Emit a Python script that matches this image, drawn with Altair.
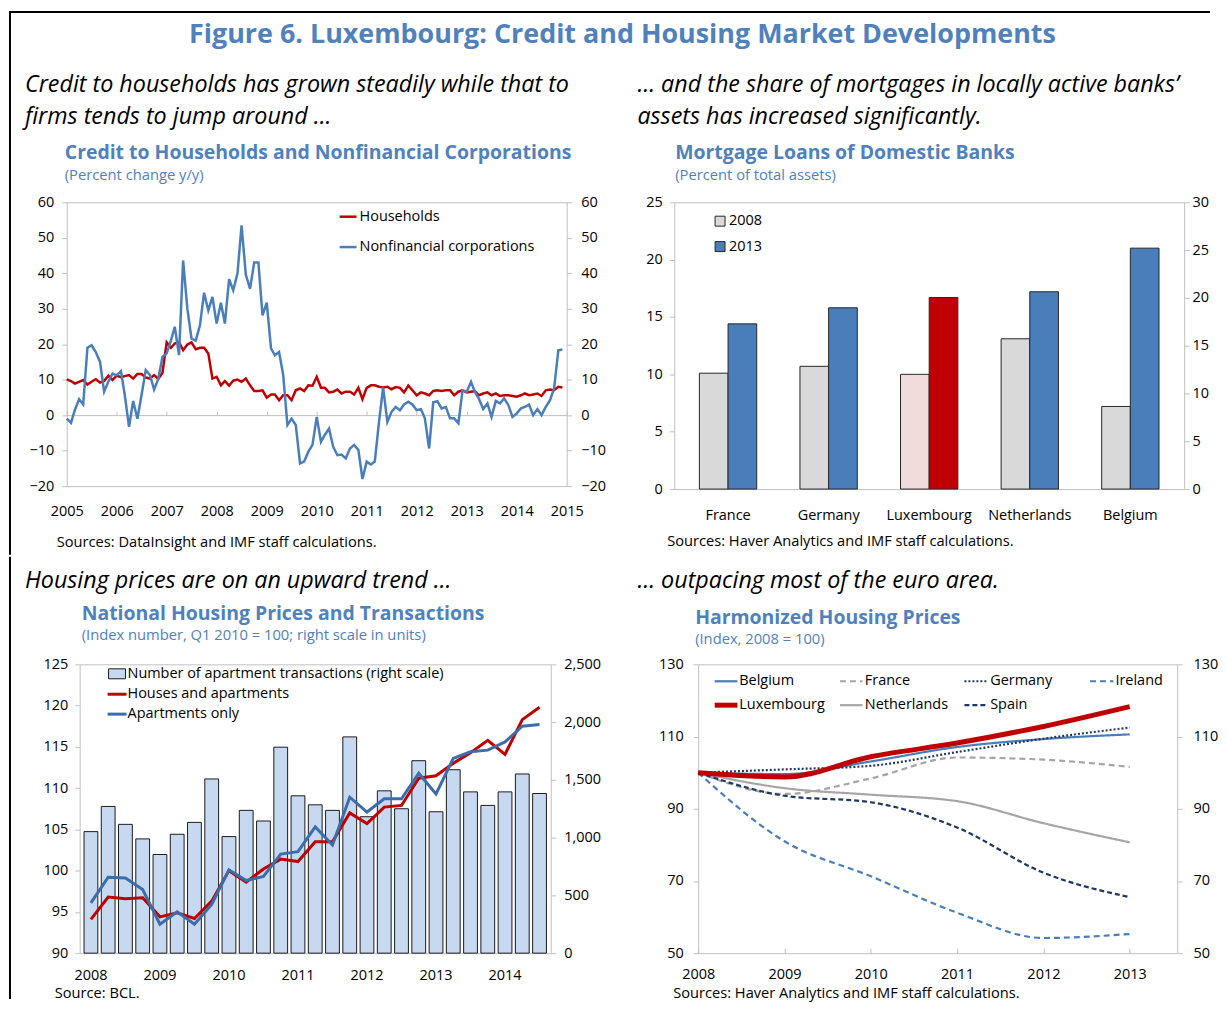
import altair as alt
import pandas as pd

FONT = "Open Sans"
TITLE_BLUE = "#4F81BD"
RED = "#C00000"
BLUE = "#4A7EBB"
DARK_BLUE = "#3C6DAA"
NAVY = "#1F3864"
LGRAY = "#A6A6A6"
FRAME = "#BFBFBF"
BAR_EDGE = "#262626"

# ---------------- Panel 1: credit growth (monthly, Jan 2005 - Dec 2014) ----------------
start_month = "2005-01-01"
households = [
    10.1, 9.6, 8.9, 9.4, 9.9, 8.6, 9.4, 10.1, 9.2, 9.6,
    11.1, 9.9, 11.1, 10.7, 11.0, 11.3, 10.3, 11.6, 11.6, 10.6,
    10.3, 11.3, 10.3, 11.9, 20.5, 19.0, 20.2, 20.6, 18.3, 19.9,
    20.5, 18.6, 19.0, 19.0, 17.4, 10.3, 10.8, 8.4, 9.6, 8.3,
    9.7, 10.0, 9.4, 10.3, 8.4, 6.8, 6.8, 7.0, 4.9, 5.8,
    5.8, 4.2, 5.6, 5.6, 4.2, 7.0, 7.5, 6.8, 8.4, 8.3,
    10.8, 7.7, 7.7, 6.4, 6.6, 7.2, 6.1, 6.6, 6.6, 5.8,
    7.7, 4.5, 7.7, 8.4, 8.4, 8.0, 7.8, 8.0, 7.3, 7.9,
    7.7, 6.4, 8.3, 7.0, 5.6, 6.4, 6.1, 5.6, 6.8, 7.0,
    6.8, 7.0, 7.0, 5.6, 6.6, 7.0, 6.4, 6.6, 6.8, 5.6,
    6.1, 6.4, 5.6, 6.1, 5.4, 5.6, 5.6, 5.4, 5.2, 5.6,
    6.1, 5.6, 5.8, 6.1, 5.4, 7.0, 7.2, 7.0, 8.0, 7.8,
]
nonfinancial = [
    -1.0, -2.2, 1.4, 4.5, 3.0, 19.0, 19.7, 17.8, 15.0, 6.6,
    9.4, 11.7, 11.2, 12.4, 5.6, -3.3, 4.0, -1.0, 5.6, 12.7,
    11.3, 7.2, 10.3, 16.4, 17.4, 21.0, 24.9, 16.9, 43.6, 30.0,
    21.6, 21.0, 25.3, 34.5, 29.5, 33.3, 25.8, 31.7, 25.8, 38.3,
    35.2, 39.9, 53.5, 39.6, 35.6, 43.0, 43.0, 28.1, 31.7, 18.8,
    16.9, 17.8, 11.3, -2.8, -1.0, -2.8, -13.6, -13.1, -10.3, -8.4,
    -0.5, -7.5, -5.6, -3.8, -8.9, -11.3, -11.1, -12.2, -9.4, -8.4,
    -9.8, -18.0, -13.1, -13.9, -13.1, -1.9, 7.8, -1.9, 0.9, 2.3,
    1.4, 3.0, 3.8, 3.0, 1.4, 1.7, -0.9, -9.4, 3.6, 3.9,
    1.9, 2.3, -0.9, -0.9, -2.3, 7.0, 6.6, 9.4, 6.6, 4.5,
    1.7, 3.3, -0.5, 4.0, 3.3, 4.7, 2.8, -0.5, 0.5, 1.9,
    2.3, 3.0, 0.0, 1.7, 0.0, 2.3, 4.2, 7.5, 18.3, 18.5,
]
p1_ticks = [-20, -10, 0, 10, 20, 30, 40, 50, 60]
p1_years = list(range(2005, 2016))

# ---------------- Panel 2: mortgage loans ----------------
countries = ["France", "Germany", "Luxembourg", "Netherlands", "Belgium"]
share_2008 = [10.1, 10.7, 10.0, 13.1, 7.2]
share_2013 = [14.4, 15.8, 16.7, 17.2, 21.0]
p2_left_ticks = [0, 5, 10, 15, 20, 25]
p2_right_ticks = [0, 5, 10, 15, 20, 25, 30]

# ---------------- Panel 3: national housing prices (quarterly 2008Q1-2014Q3) ----------------
quarters = [f"{y}Q{q}" for y in range(2008, 2015) for q in range(1, 5)][:27]
transactions = [1052, 1270, 1115, 989, 854, 1029, 1132, 1508, 1009, 1236, 1144, 1783, 1362, 1284,
                1236, 1872, 1181, 1405, 1250, 1666, 1224, 1588, 1396, 1279, 1396, 1551, 1382]
houses_apartments = [94.1, 96.8, 96.6, 96.7, 94.4, 94.9, 94.2, 96.3, 100.0, 98.6, 100.2, 101.4, 101.1, 103.5,
                     103.5, 107.0, 105.7, 107.7, 107.9, 111.2, 111.5, 113.0, 114.3, 115.8, 114.1, 118.3, 119.8]
apartments_only = [96.1, 99.2, 99.1, 97.7, 93.5, 95.0, 93.5, 95.9, 100.1, 98.8, 99.3, 102.0, 102.3, 105.3,
                   103.1, 108.9, 107.1, 108.7, 108.7, 111.8, 109.3, 113.6, 114.4, 114.6, 115.6, 117.5, 117.7]
p3_left_ticks = [90, 95, 100, 105, 110, 115, 120, 125]
p3_right_ticks = [0, 500, 1000, 1500, 2000, 2500]

# ---------------- Panel 4: harmonized housing prices ----------------
hp_years = [2008, 2009, 2010, 2011, 2012, 2013]
hp_belgium = [100, 99.6, 103.1, 107.1, 109.3, 110.6]
hp_france = [100, 94.1, 98.4, 104.2, 103.6, 101.6]
hp_germany = [100, 100.9, 101.9, 105.7, 109.4, 112.5]
hp_ireland = [100, 81.0, 71.3, 61.2, 54.2, 55.3]
hp_luxembourg = [100, 98.8, 104.4, 108.2, 112.8, 118.3]
hp_netherlands = [100, 95.7, 93.9, 92.1, 86.0, 80.7]
hp_spain = [100, 93.6, 91.8, 84.8, 72.3, 65.5]
hp_names = ["Belgium", "France", "Germany", "Ireland", "Luxembourg", "Netherlands", "Spain"]
hp_colors = [BLUE, LGRAY, NAVY, BLUE, RED, LGRAY, NAVY]
hp_dashes = [[1, 0], [6, 4], [2, 2], [6, 4], [1, 0], [1, 0], [5, 3]]
p4_ticks = [50, 70, 90, 110, 130]

ONE = pd.DataFrame({"k": [0]})

HEAD = 23.4     # italic panel headings
MAIN = 27       # figure title
TSIZE = 19.5    # chart titles
SUB = 14.8      # chart subtitles
LEG = 14.5      # legend labels
SRC = 14.7      # source notes
AX = 14.5       # axis labels


def txt(s, x, y, size=LEG, color="#000000", weight="normal", style="normal", align="left"):
    return alt.Chart(ONE).mark_text(
        text=s, font=FONT, fontSize=size, color=color, fontWeight=weight,
        fontStyle=style, align=align, baseline="middle"
    ).encode(x=alt.value(x), y=alt.value(y))


def hline(x1, x2, y, color, width, dash=None):
    kw = dict(color=color, strokeWidth=width)
    if dash is not None:
        kw["strokeDash"] = dash
    return alt.Chart(ONE).mark_rule(**kw).encode(x=alt.value(x1), x2=alt.value(x2), y=alt.value(y))


def box(x1, x2, y1, y2, color="#000000"):
    # filled, stroke-less bar used for the figure's frame lines
    return alt.Chart(ONE).mark_rect(color=color).encode(
        x=alt.value(x1), x2=alt.value(x2), y=alt.value(y1), y2=alt.value(y2))


def yaxis(values, orient, pad, fmt=None):
    kw = dict(orient=orient, values=values, grid=False, domain=False, ticks=True, tickSize=5,
              tickColor=FRAME, labelPadding=pad, title=None)
    if fmt:
        kw["format"] = fmt
    return alt.Axis(**kw)


# ---------- Panel 1 ----------
W1, H1 = 502, 285
df1 = pd.DataFrame({"date": pd.date_range(start_month, periods=len(households), freq="MS"),
                    "hh": households, "nfc": nonfinancial})
t_dom = [alt.DateTime(year=2005, month=1, date=1), alt.DateTime(year=2015, month=1, date=1)]
t_vals = [alt.DateTime(year=y, month=1, date=1) for y in p1_years]
zero_off = -H1 * 60 / 80

red1 = alt.Chart(df1).mark_line(color=RED, strokeWidth=2.5).encode(
    x=alt.X("date:T", scale=alt.Scale(domain=t_dom),
            axis=alt.Axis(orient="top", offset=zero_off, values=t_vals, labels=False, ticks=True,
                          tickSize=4, tickColor=FRAME, domain=True, domainColor=FRAME, grid=False, title=None)),
    y=alt.Y("hh:Q", scale=alt.Scale(domain=[-20, 60]), axis=yaxis(p1_ticks, "right", 9)),
)
blue1 = alt.Chart(df1).mark_line(color=BLUE, strokeWidth=2.5).encode(
    x=alt.X("date:T", scale=alt.Scale(domain=t_dom),
            axis=alt.Axis(orient="bottom", values=t_vals, format="%Y", ticks=False, tickSize=0, domain=False,
                          grid=False, labelPadding=19, labelFlush=False, labelOverlap=False, title=None)),
    y=alt.Y("nfc:Q", scale=alt.Scale(domain=[-20, 60]), axis=yaxis(p1_ticks, "left", 8)),
)
p1 = alt.layer(
    red1, blue1,
    hline(274, 291, 14.5, RED, 2.5), txt("Households", 294, 14.5),
    hline(274, 291, 45, BLUE, 2.5), txt("Nonfinancial corporations", 294, 45),
    txt("Figure 6. Luxembourg: Credit and Housing Market Developments", 558, -168, MAIN, TITLE_BLUE, "bold",
        align="center"),
    txt("Credit to households has grown steadily while that to", -42, -118, HEAD, style="italic"),
    txt("firms tends to jump around …", -42, -86, HEAD, style="italic"),
    txt("Credit to Households and Nonfinancial Corporations", -2, -49, TSIZE, TITLE_BLUE, "bold"),
    txt("(Percent change y/y)", -2, -26, SUB, TITLE_BLUE),
    txt("Sources: DataInsight and IMF staff calculations.", -10, 342, SRC),
    box(-58, -56, -192, 354),
    box(-58, 1148, -192, -190),
).resolve_scale(x="independent", y="independent").properties(width=W1, height=H1)

# ---------- Panel 2 ----------
W2, H2 = 512, 288
rows2 = []
for c, a, b in zip(countries, share_2008, share_2013):
    for yr, v in (("2008", a), ("2013", b)):
        rows2.append({"country": c, "year": yr, "value": v,
                      "series": ("Lux " if c == "Luxembourg" else "") + yr})
df2 = pd.DataFrame(rows2)
PI2, PO2 = 0.43, 0.25
step2 = W2 / (len(countries) - PI2 + 2 * PO2)
xs2 = alt.Scale(paddingInner=PI2, paddingOuter=PO2)
bars2 = alt.Chart(df2).mark_bar(stroke=BAR_EDGE, strokeWidth=1).encode(
    x=alt.X("country:N", sort=countries, scale=xs2,
            axis=alt.Axis(orient="bottom", labelAngle=0, ticks=False, tickSize=0, domain=False, grid=False,
                          labelPadding=20, title=None)),
    xOffset=alt.XOffset("year:N", sort=["2008", "2013"]),
    y=alt.Y("value:Q", scale=alt.Scale(domain=[0, 25]), axis=yaxis(p2_left_ticks, "left", 7)),
    color=alt.Color("series:N", scale=alt.Scale(domain=["2008", "2013", "Lux 2008", "Lux 2013"],
                                                range=["#D9D9D9", BLUE, "#F2DCDB", RED]), legend=None),
)
dummy2 = alt.Chart(pd.DataFrame({"country": countries, "v": [0] * len(countries)})).mark_point(opacity=0).encode(
    x=alt.X("country:N", sort=countries, scale=xs2,
            axis=alt.Axis(orient="top", offset=-H2, labels=False, ticks=True, tickSize=4, tickColor=FRAME,
                          domain=False, grid=False, bandPosition=0, tickOffset=-step2 * PI2 / 2, title=None)),
    y=alt.Y("v:Q", scale=alt.Scale(domain=[0, 30]), axis=yaxis(p2_right_ticks, "right", 3)),
)


def square(x, y, fill):
    return alt.Chart(ONE).mark_square(size=100, fill=fill, stroke=BAR_EDGE, strokeWidth=1, opacity=1).encode(
        x=alt.value(x), y=alt.value(y))


p2 = alt.layer(
    bars2, dummy2,
    square(46, 19, "#D9D9D9"), txt("2008", 55, 19),
    square(46, 44.5, BLUE), txt("2013", 55, 44.5),
    txt("… and the share of mortgages in locally active banks’", -37, -118, HEAD, style="italic"),
    txt("assets has increased significantly.", -37, -86, HEAD, style="italic"),
    txt("Mortgage Loans of Domestic Banks", 1, -49, TSIZE, TITLE_BLUE, "bold"),
    txt("(Percent of total assets)", 1, -26, SUB, TITLE_BLUE),
    txt("Sources: Haver Analytics and IMF staff calculations.", -7, 341, SRC),
).resolve_scale(x="independent", y="independent").properties(width=W2, height=H2)

# ---------- Panel 3 ----------
W3, H3 = 473, 290
df3 = pd.DataFrame({"q": quarters, "trans": transactions, "ha": houses_apartments, "ao": apartments_only})
q1_labels = [q for q in quarters if q.endswith("Q1")]
xs3 = alt.Scale(paddingInner=0.2, paddingOuter=0.25)
xax3 = alt.Axis(values=q1_labels, labelExpr="substring(datum.value, 0, 4)", labelAngle=0, ticks=False,
                tickSize=0, domain=False, grid=False, labelPadding=15, title=None)
bars3 = alt.Chart(df3).mark_bar(fill="#C6D9F1", stroke="#1A1A1A", strokeWidth=1).encode(
    x=alt.X("q:O", sort=quarters, scale=xs3, axis=xax3),
    y=alt.Y("trans:Q", scale=alt.Scale(domain=[0, 2500]), axis=yaxis(p3_right_ticks, "right", 8, ",.0f")),
)
red3 = alt.Chart(df3).mark_line(color=RED, strokeWidth=3).encode(
    x=alt.X("q:O", sort=quarters, scale=xs3, axis=xax3),
    y=alt.Y("ha:Q", scale=alt.Scale(domain=[90, 125]), axis=yaxis(p3_left_ticks, "left", 7)),
)
blue3 = alt.Chart(df3).mark_line(color=DARK_BLUE, strokeWidth=3).encode(
    x=alt.X("q:O", sort=quarters, scale=xs3, axis=xax3),
    y=alt.Y("ao:Q", scale=alt.Scale(domain=[90, 125]), axis=None),
)
legend3 = alt.Chart(ONE).mark_rect(fill="#C6D9F1", stroke="#1A1A1A", strokeWidth=1).encode(
    x=alt.value(29), x2=alt.value(46), y=alt.value(4.5), y2=alt.value(14.5))
p3 = alt.layer(
    bars3, red3, blue3,
    legend3, txt("Number of apartment transactions (right scale)", 48, 9.5),
    hline(28, 47, 30, RED, 3), txt("Houses and apartments", 48, 30),
    hline(28, 47, 50, DARK_BLUE, 3), txt("Apartments only", 48, 50),
    txt("Housing prices are on an upward trend …", -55, -84, HEAD, style="italic"),
    txt("National Housing Prices and Transactions", 2, -51, TSIZE, TITLE_BLUE, "bold"),
    txt("(Index number, Q1 2010 = 100; right scale in units)", 2, -28, SUB, TITLE_BLUE),
    txt("Source: BCL.", -25, 331, SRC),
    box(-71, -69, -108, 336),
).resolve_scale(y="independent").properties(width=W3, height=H3)

# ---------- Panel 4 ----------
W4, H4 = 481, 290
hp_values = [hp_belgium, hp_france, hp_germany, hp_ireland, hp_luxembourg, hp_netherlands, hp_spain]
rows4 = [{"country": n, "year": y, "value": v}
         for n, vals in zip(hp_names, hp_values) for y, v in zip(hp_years, vals)]
df4 = pd.DataFrame(rows4)
xs4 = alt.Scale(domain=[2008, 2013.55], nice=False, zero=False)
ys4 = alt.Scale(domain=[50, 130])
others4 = alt.Chart(df4).transform_filter(alt.datum.country != "Luxembourg").mark_line(
    interpolate="monotone", strokeWidth=2.2).encode(
    x=alt.X("year:Q", scale=xs4,
            axis=alt.Axis(values=hp_years, format="d", ticks=False, tickSize=0, domain=False, grid=False,
                          labelPadding=14, labelFlush=False, title=None)),
    y=alt.Y("value:Q", scale=ys4, axis=yaxis(p4_ticks, "left", 10)),
    color=alt.Color("country:N", scale=alt.Scale(domain=hp_names, range=hp_colors), legend=None),
    strokeDash=alt.StrokeDash("country:N", scale=alt.Scale(domain=hp_names, range=hp_dashes), legend=None),
)
lux4 = alt.Chart(df4).transform_filter(alt.datum.country == "Luxembourg").mark_line(
    interpolate="monotone", strokeWidth=5, color=RED).encode(
    x=alt.X("year:Q", scale=xs4, axis=None),
    y=alt.Y("value:Q", scale=ys4, axis=None),
)
dummy4 = alt.Chart(pd.DataFrame({"year": hp_years, "v": [50] * len(hp_years)})).mark_point(opacity=0).encode(
    x=alt.X("year:Q", scale=xs4,
            axis=alt.Axis(orient="top", offset=-H4, values=hp_years, labels=False, ticks=True, tickSize=5,
                          tickColor=FRAME, domain=False, grid=False, title=None)),
    y=alt.Y("v:Q", scale=ys4, axis=yaxis(p4_ticks, "right", 11)),
)
leg_cols = [(16.6, 39.4, 41.3), (142.4, 165.1, 167.4), (267.4, 291.3, 293.2), (393.5, 417.0, 419.0)]
leg_rows = [17, 41]
leg4 = []
for i, (name, col, dash) in enumerate(zip(hp_names, hp_colors, hp_dashes)):
    cx = leg_cols[i % 4]
    ry = leg_rows[i // 4]
    width = 5 if name == "Luxembourg" else 2.2
    leg4.append(hline(cx[0], cx[1], ry, col, width, None if dash == [1, 0] else dash))
    leg4.append(txt(name, cx[2], ry))

p4 = alt.layer(
    dummy4, others4, lux4, *leg4,
    txt("… outpacing most of the euro area.", -61, -84, HEAD, style="italic"),
    txt("Harmonized Housing Prices", -3, -47, TSIZE, TITLE_BLUE, "bold"),
    txt("(Index, 2008 = 100)", -3, -24, SUB, TITLE_BLUE),
    txt("Sources: Haver Analytics and IMF staff calculations.", -25, 331, SRC),
).resolve_scale(x="independent", y="independent").properties(width=W4, height=H4)


def spacer(w):
    return alt.Chart(ONE).mark_point(opacity=0).encode(x=alt.value(0), y=alt.value(0)).properties(
        width=w, height=10, view=alt.ViewBackground(stroke="transparent"))


row1 = alt.hconcat(p1, p2, spacing=108, bounds="flush")
row2 = alt.hconcat(spacer(13), p3, spacer(148), p4, spacing=0, bounds="flush")

chart = alt.vconcat(row1, row2, spacing=0, bounds="full").resolve_scale(
    color="independent", strokeDash="independent"
).properties(
    padding={"left": 0, "top": 0, "right": 0, "bottom": 0}
).configure_view(stroke=FRAME, strokeWidth=1).configure_axis(
    labelFont=FONT, labelFontSize=AX, labelColor="#000000"
)

chart.save("out.html", embed_options={"renderer": "svg", "actions": False})
